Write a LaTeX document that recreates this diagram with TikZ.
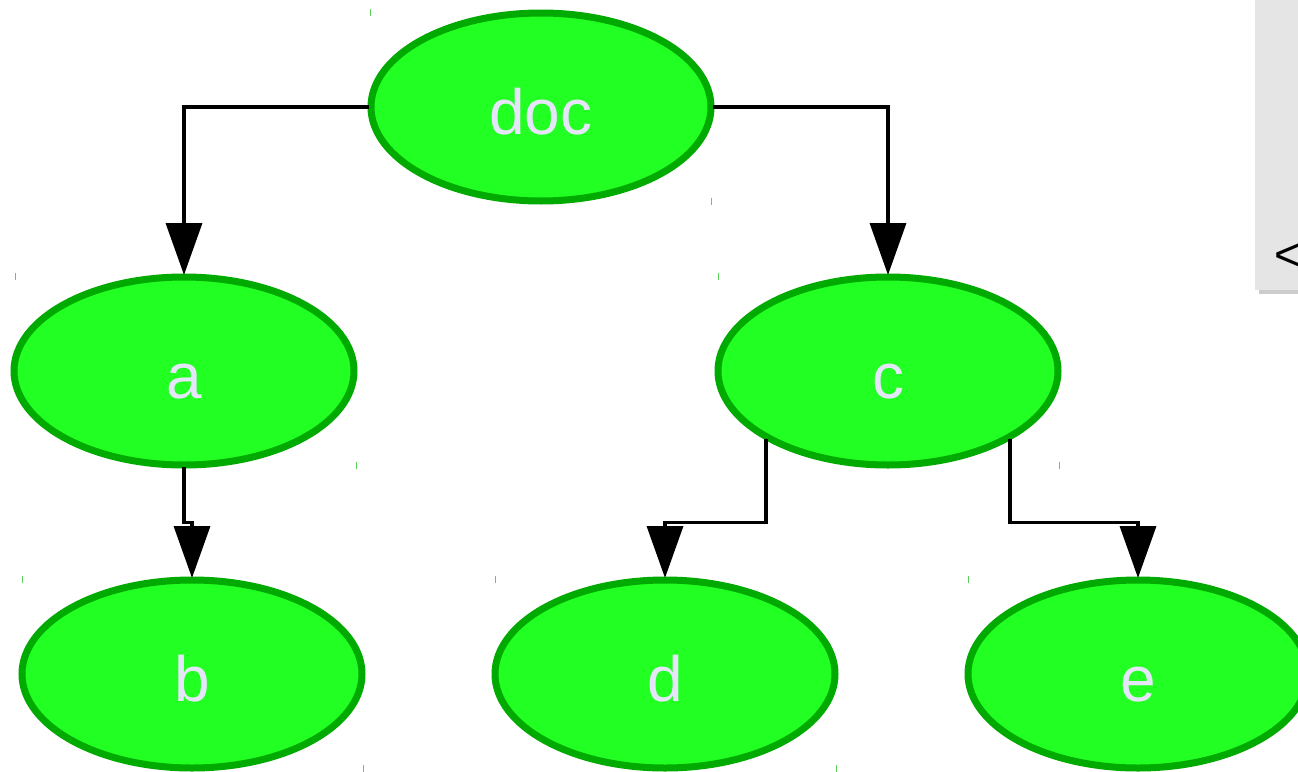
\documentclass[tikz,border=0pt]{standalone}
\usepackage{fontspec}
\setmainfont{Liberation Sans}
\usetikzlibrary{arrows.meta,shapes.geometric,calc}
\definecolor{nodefill}{RGB}{34,255,34}
\definecolor{nodeline}{RGB}{0,170,0}
\definecolor{nodetext}{RGB}{230,230,250}
\definecolor{panelgrey}{RGB}{229,229,229}
\definecolor{panelshadow}{RGB}{204,204,204}
\definecolor{tickgreen}{RGB}{90,210,90}

\begin{document}
\begin{tikzpicture}[x=1pt,y=-1pt,
  treenode/.style={ellipse, draw=nodeline, fill=nodefill, line width=7pt,
    minimum width=340pt, minimum height=188pt, inner sep=0pt, outer sep=2pt,
    text=nodetext, font=\fontsize{64}{70}\selectfont,
    text height=54pt, text depth=0pt},
  link/.style={draw=black, line width=3.5pt, -{Triangle[width=36pt,length=52pt]}},
  cornertick/.style={tickgreen, line width=1pt}
]
\clip (0,0) rectangle (1298,771);

% side panel in the top right corner
\fill[panelshadow] (1259,290) rectangle (1300,294);
\fill[panelgrey] (1255,-2) rectangle (1300,290);
\node[anchor=base west, inner sep=0pt, font=\fontsize{46}{50}\selectfont] (lt) at (1274,270) {<};

% tree nodes
\node[treenode] (doc) at (541,107) {doc};
\node[treenode] (a)   at (184,371) {a};
\node[treenode] (c)   at (888,371) {c};
\node[treenode] (b)   at (192,674) {b};
\node[treenode] (d)   at (665,674) {d};
\node[treenode] (e)   at (1138,674) {e};

% small marks at the node box corners
\draw[cornertick] (370,9) -- (370,16);   \draw[cornertick] (711,198) -- (711,205);
\draw[cornertick] (15,273) -- (15,280);  \draw[cornertick] (356,462) -- (356,469);
\draw[cornertick] (718,273) -- (718,280); \draw[cornertick] (1059,462) -- (1059,469);
\draw[cornertick] (22,576) -- (22,583);  \draw[cornertick] (363,765) -- (363,772);
\draw[cornertick] (495,576) -- (495,583); \draw[cornertick] (836,765) -- (836,772);
\draw[cornertick] (968,576) -- (968,583);

% connectors
\coordinate (abend) at ($(a.south)!0.5!(b.north)$);
\draw[link] (doc.west) -| (a.north);
\draw[link] (doc.east) -| (c.north);
\draw[link] (a.south) |- (abend) -| (b.north);
\draw[link] (c.209) -- (c.209 |- abend) -| (d.north);
\draw[link] (c.331) -- (c.331 |- abend) -| (e.north);
\end{tikzpicture}
\end{document}
